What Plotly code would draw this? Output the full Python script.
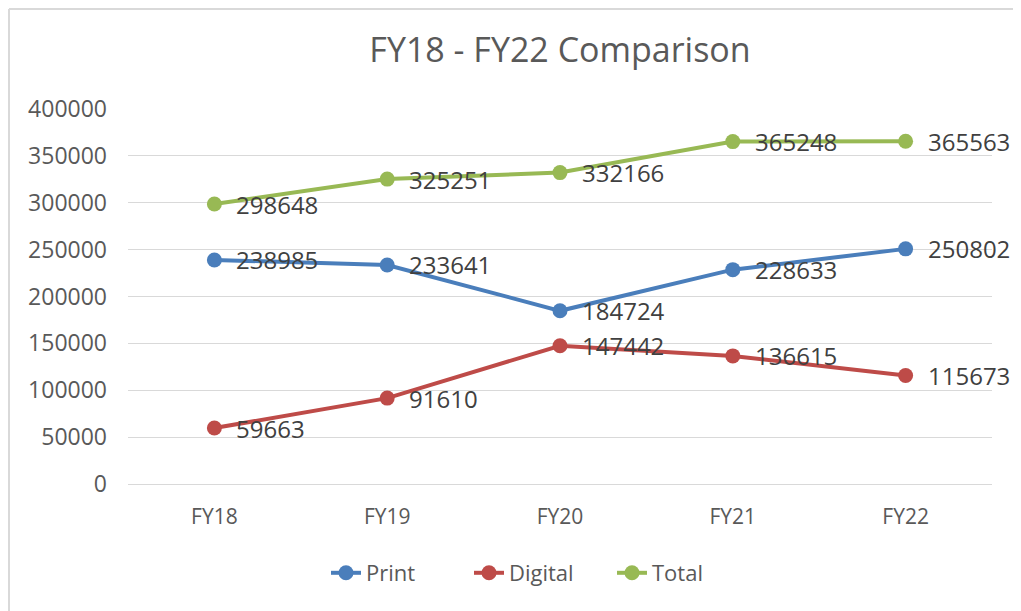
import plotly.graph_objects as go

categories = ["FY18", "FY19", "FY20", "FY21", "FY22"]
print_vals = [238985, 233641, 184724, 228633, 250802]
digital_vals = [59663, 91610, 147442, 136615, 115673]
total_vals = [298648, 325251, 332166, 365248, 365563]
y_ticks = [0, 50000, 100000, 150000, 200000, 250000, 300000, 350000, 400000]

series = [
    ("Print", print_vals, "#4A7EBB"),
    ("Digital", digital_vals, "#BE4B48"),
    ("Total", total_vals, "#98B954"),
]

FONT = "Open Sans"
W, H = 1013, 603
L, R, T, B = 120, 29, 101, 127
PW, PH = W - L - R, H - T - B

fig = go.Figure()
annotations = []
for name, vals, color in series:
    fig.add_trace(go.Scatter(
        x=categories, y=vals, name=name, mode="lines+markers",
        line=dict(color=color, width=4),
        marker=dict(color=color, size=15),
    ))
    for c, v in zip(categories, vals):
        annotations.append(dict(
            x=c, y=v, text=str(v), showarrow=False, xanchor="left", yanchor="middle",
            xshift=20, yshift=0, font=dict(family=FONT, size=24, color="#404040"),
        ))

fig.update_layout(
    width=W, height=H,
    margin=dict(l=L, r=R, t=T, b=B),
    paper_bgcolor="white", plot_bgcolor="white",
    title=dict(text="FY18 - FY22 Comparison", x=0.5, xref="paper", xanchor="center",
               y=(H - 42) / H, yanchor="middle",
               font=dict(family=FONT, size=34, color="#595959")),
    xaxis=dict(type="category", range=[-0.5, 4.5], showgrid=False,
               showline=True, linecolor="#D9D9D9", linewidth=1,
               ticks="", tickfont=dict(family=FONT, size=21, color="#595959"),
               ticklabelstandoff=14),
    yaxis=dict(range=[0, 400000], tickvals=y_ticks, ticktext=[str(t) for t in y_ticks],
               showgrid=True, gridcolor="#D9D9D9", gridwidth=1, zeroline=False,
               showline=False, ticks="",
               tickfont=dict(family=FONT, size=23, color="#595959"),
               ticklabelstandoff=20),
    legend=dict(orientation="h", x=(326 - 8 - L) / PW, xanchor="left",
                y=(T + PH - 565) / PH, yanchor="middle",
                font=dict(family=FONT, size=22, color="#595959"), itemwidth=30,
                entrywidth=98, entrywidthmode="pixels",
                bgcolor="rgba(0,0,0,0)"),
    annotations=annotations,
    shapes=[
        dict(type="line", xref="paper", yref="paper", x0=(1 - L) / PW, x1=1.2,
             y0=(T + PH - 1) / PH, y1=(T + PH - 1) / PH, line=dict(color="#D9D9D9", width=2)),
        dict(type="line", xref="paper", yref="paper", x0=(1 - L) / PW, x1=(1 - L) / PW,
             y0=(T + PH - 1) / PH, y1=-0.5, line=dict(color="#D9D9D9", width=2)),
    ],
)

fig.write_html("out.html")
